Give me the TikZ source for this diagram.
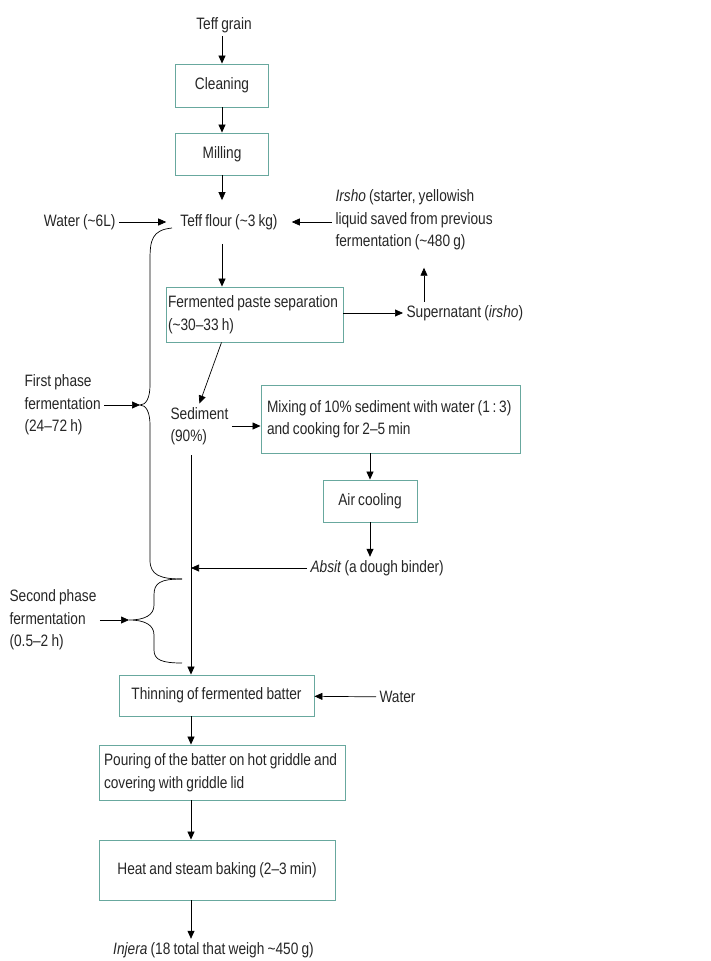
\documentclass[tikz,border=0pt]{standalone}
\usepackage{fontspec}
\setmainfont[FakeStretch=0.83, WordSpace=0.83]{Liberation Sans}
\usetikzlibrary{arrows.meta}
\definecolor{boxline}{RGB}{104,168,158}

\begin{document}
\begin{tikzpicture}[x=1pt, y=-1pt,
  every node/.style={font=\fontsize{16.5}{22.5}\selectfont, text=black!85},
  stage/.style={draw=boxline, line width=0.9pt, inner sep=4pt},
  arr/.style={-{Triangle[length=8pt,width=7pt]}, line width=0.7pt},
  brace/.style={line width=0.7pt}]
  \useasboundingbox (0,0) rectangle (711,961);
  \node (grain) at (224,25) {Teff grain};
  \node[stage, minimum width=93, minimum height=43] (clean) at (222,85.5) {Cleaning};
  \node[stage, minimum width=93, minimum height=42] (mill) at (222,154) {Milling};
  \node[inner xsep=14pt, inner ysep=14pt] (flour) at (229,222) {Teff flour (\textasciitilde3 kg)};
  \node[anchor=east] (water) at (119,222) {Water (\textasciitilde6L)};
  \node[anchor=west, align=left] (irsho) at (332,220) {\textit{Irsho} (starter, yellowish\\liquid saved from previous\\fermentation (\textasciitilde480 g)};
  \node[stage, inner xsep=2pt, text width=173pt, align=flush left, minimum height=55] (ferm) at (254.5,314.5) {Fermented paste separation\\(\textasciitilde30--33 h)};
  \node[anchor=west] (super) at (403,313) {Supernatant (\textit{irsho})};
  \node[anchor=west, align=left] (sed) at (167,426) {Sediment\\(90\%)};
  \node[stage, inner xsep=6pt, text width=247pt, align=flush left, minimum height=68] (mix) at (390.5,419) {Mixing of 10\% sediment with water (1\,:\,3)\\and cooking for 2--5 min};
  \node[stage, minimum width=94, minimum height=42] (cool) at (370,501) {Air cooling};
  \node[anchor=west] (absit) at (307,568) {\textit{Absit} (a dough binder)};
  \node[anchor=west, align=left] (first) at (21,405) {First phase\\fermentation\\(24--72 h)};
  \node[anchor=west, align=left] (second) at (6,620) {Second phase\\fermentation\\(0.5--2 h)};
  \node[stage, minimum width=195, minimum height=41] (thin) at (216.5,695.5) {Thinning of fermented batter};
  \node[anchor=west] (water2) at (376,697) {Water};
  \node[stage, inner xsep=5pt, text width=236pt, align=flush left, minimum height=55] (pour) at (222,772.5) {Pouring of the batter on hot griddle and\\covering with griddle lid};
  \node[stage, minimum width=236, minimum height=60] (bake) at (217,870) {Heat and steam baking (2--3 min)};
  \node (injera) at (213.5,950) {\textit{Injera} (18 total that weigh \textasciitilde450 g)};

  \coordinate (trunk) at (191,455);
  \coordinate (tipA) at (140,405);
  \coordinate (tipB) at (129,620);
  \coordinate (supup) at ([xshift=21pt]super.north west);
  \coordinate (ferml) at ([xshift=-33pt]ferm.south);

  \draw[arr] (grain.south -| mill.south) -- (clean);
  \draw[arr] (clean) -- (mill);
  \draw[arr] (mill) -- (flour.north -| mill.south);
  \draw[arr] (water) -- (flour);
  \draw[arr] (irsho.west |- flour) -- (flour);
  \draw[arr] (flour.south -| mill.south) -- (ferm.north -| mill.south);
  \draw[arr] (ferm.east |- super) -- (super);
  \draw[arr, shorten >=14pt] (supup) -- (supup |- irsho.south);
  \draw[arr] (ferml) -- (sed.north);
  \draw[arr] (sed.east) -- (sed.east -| mix.west);
  \draw[arr] (cool.north |- mix.south) -- (cool);
  \draw[arr] (cool) -- (cool.south |- absit.north);
  \draw[arr] (absit) -- (absit -| trunk);
  \draw[arr] (trunk) -- (trunk |- thin.north);
  \draw[arr] (water2) -- (thin);
  \draw[arr] (trunk |- thin.south) -- (trunk |- pour.north);
  \draw[arr] (trunk |- pour.south) -- (trunk |- bake.north);
  \draw[arr] (trunk |- bake.south) -- (trunk |- injera.north);
  \draw[arr] (first) -- (tipA);
  \draw[arr] (second) -- (tipB);

  \draw[brace] (172,228) .. controls (152,230) and (150,240) .. (150,260) -- (150,385)
    .. controls (150,398) and (146,405) .. (tipA) .. controls (146,405) and (150,412) .. (150,425)
    -- (150,560) .. controls (150,575) and (160,579) .. (182,579);
  \draw[brace] (182,579) .. controls (160,579) and (154,583) .. (154,595) -- (154,605)
    .. controls (154,615) and (145,620) .. (tipB) .. controls (145,620) and (154,625) .. (154,635)
    -- (154,650) .. controls (154,660) and (162,663) .. (182,663);
\end{tikzpicture}
\end{document}
